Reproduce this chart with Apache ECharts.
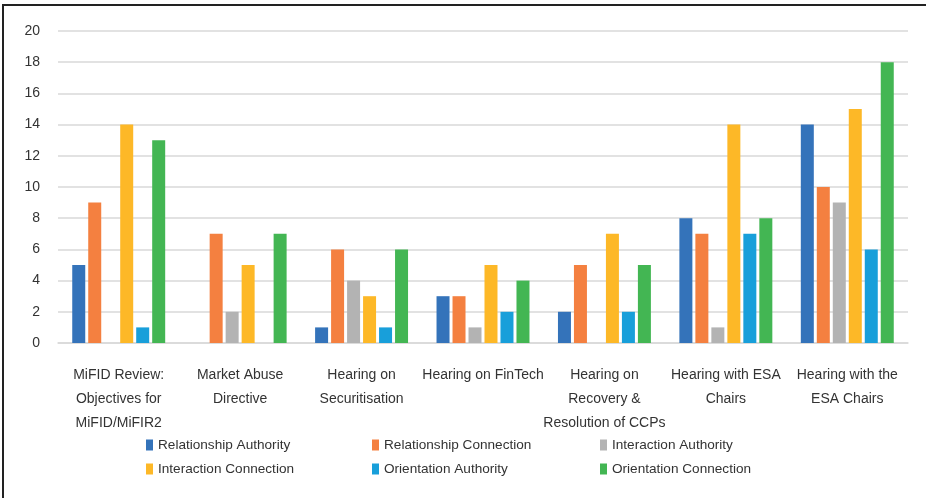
<!DOCTYPE html>
<html><head><meta charset="utf-8">
<script src="https://cdn.jsdelivr.net/npm/echarts@6/dist/echarts.min.js"></script>
<style>html,body{margin:0;padding:0;background:#fff}#c{width:926px;height:498px}</style>
</head><body><div id="c"></div>
<script>
const categories = [
  "MiFID Review:\nObjectives for\nMiFID/MiFIR2",
  "Market Abuse\nDirective",
  "Hearing on\nSecuritisation",
  "Hearing on FinTech",
  "Hearing on\nRecovery &\nResolution of CCPs",
  "Hearing with ESA\nChairs",
  "Hearing with the\nESA Chairs"
];
const seriesNames = ["Relationship Authority","Relationship Connection","Interaction Authority","Interaction Connection","Orientation Authority","Orientation Connection"];
const relationshipAuthority  = [5, 0, 1, 3, 2, 8, 14];
const relationshipConnection = [9, 7, 6, 3, 5, 7, 10];
const interactionAuthority   = [0, 2, 4, 1, 0, 1, 9];
const interactionConnection  = [14, 5, 3, 5, 7, 14, 15];
const orientationAuthority   = [1, 0, 1, 2, 2, 7, 6];
const orientationConnection  = [13, 7, 6, 4, 5, 8, 18];
const yTicks = [0,2,4,6,8,10,12,14,16,18,20];

const values = [relationshipAuthority, relationshipConnection, interactionAuthority, interactionConnection, orientationAuthority, orientationConnection];
const colors = ["#3473BA","#F48040","#B3B3B3","#FDB827","#189FDA","#43B653"];
const font = "'Liberation Sans', Arial, sans-serif";

const legendPos = [[146,438],[372,438],[600,438],[146,462],[372,462],[600,462]];
const chart = echarts.init(document.getElementById('c'));
chart.setOption({
  animation:false,
  color: colors,
  textStyle:{fontFamily:font},
  graphic:[{type:'rect',shape:{x:3,y:5,width:940,height:520},style:{fill:'none',stroke:'#222',lineWidth:2},silent:true}],
  grid:{left:58,right:18,top:31,bottom:155},
  legend: seriesNames.map((n,i)=>({
    data:[n], left:legendPos[i][0], top:legendPos[i][1], padding:0,
    icon:'rect', itemWidth:7, itemHeight:11, itemGap:4,
    textStyle:{fontFamily:font,fontSize:13.6,color:'#333',padding:[0,0,0,0]}
  })),
  xAxis:{
    type:'category', data:categories,
    axisLine:{show:true,lineStyle:{color:'#d9d9d9',width:1.5}},
    axisTick:{show:false},
    axisLabel:{fontFamily:font,fontSize:14,color:'#333',lineHeight:24,margin:20,interval:0}
  },
  yAxis:{
    type:'value', min:yTicks[0], max:yTicks[yTicks.length-1], interval:2,
    axisLine:{show:false}, axisTick:{show:false},
    axisLabel:{fontFamily:font,fontSize:14,color:'#333',margin:18},
    splitLine:{lineStyle:{color:'#d9d9d9',width:1.5}}
  },
  series: seriesNames.map((n,i)=>({
    name:n, type:'bar', data:values[i], barWidth:13, barGap:'23%',
    itemStyle:{color:colors[i]}
  }))
});
</script></body></html>
